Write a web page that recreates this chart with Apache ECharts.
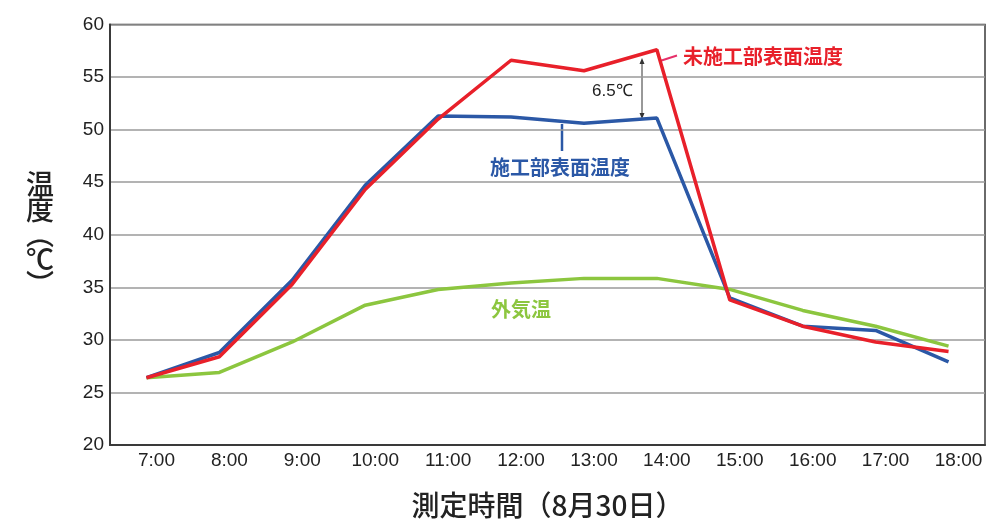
<!doctype html>
<html>
<head>
    <meta charset="UTF-8">
    <title>測定時間と温度</title>
    <script src="https://cdn.jsdelivr.net/npm/echarts@6/dist/echarts.min.js"></script>
    <style>
        html, body { margin: 0; padding: 0; background: #fff; }
        #main { width: 1001px; height: 524px; }
    </style>
</head>
<body>
<div id="main"></div>
<script>
    // 時刻
    var hours = ['7:00', '8:00', '9:00', '10:00', '11:00', '12:00', '13:00', '14:00', '15:00', '16:00', '17:00', '18:00'];
    // 未施工部表面温度
    var untreated = [26.4, 28.4, 35.3, 44.3, 51.0, 56.6, 55.6, 57.6, 33.8, 31.3, 29.8, 28.9];
    // 施工部表面温度
    var treated = [26.4, 28.8, 35.7, 44.7, 51.3, 51.2, 50.6, 51.1, 34.0, 31.3, 30.9, 27.9];
    // 外気温
    var outside = [26.4, 26.9, 29.8, 33.3, 34.8, 35.4, 35.85, 35.85, 34.8, 32.8, 31.3, 29.4];
    var yTicks = [20, 25, 30, 35, 40, 45, 50, 55, 60];

    var font = 'Liberation Sans';
    var jpFont = 'Noto Sans CJK JP';

    var dom = document.getElementById('main');
    var myChart = echarts.init(dom);

    var option = {
        animation: false,
        grid: {
            left: 110,
            right: 16,
            top: 24.5,
            bottom: 78,
            show: true,
            borderColor: '#3a3a3a',
            borderWidth: 1.5
        },
        xAxis: {
            type: 'category',
            data: hours,
            boundaryGap: true,
            axisLine: { lineStyle: { color: '#3a3a3a', width: 2 } },
            axisTick: { show: false },
            axisLabel: {
                color: '#222',
                fontSize: 19,
                fontFamily: font,
                margin: 6,
                padding: [0, 0, 0, 20]
            },
            name: '測定時間（8月30日）',
            nameLocation: 'middle',
            nameGap: 46,
            nameTextStyle: { color: '#222', fontSize: 28, fontFamily: jpFont, fontWeight: 500 }
        },
        yAxis: {
            type: 'value',
            min: yTicks[0],
            max: yTicks[yTicks.length - 1],
            interval: 5,
            axisLine: { show: true, lineStyle: { color: '#3a3a3a', width: 2 } },
            axisTick: { show: false },
            axisLabel: {
                color: '#222',
                fontSize: 19,
                fontFamily: font,
                margin: 6
            },
            splitLine: { lineStyle: { color: '#9a9a9a', width: 1.5 } },
            name: '温\n度\n︵\n℃\n︶',
            nameLocation: 'middle',
            nameRotate: 0,
            nameGap: 56,
            nameTextStyle: { color: '#222', fontSize: 28, fontFamily: jpFont, fontWeight: 500, lineHeight: 25 }
        },
        series: [
            {
                name: '外気温',
                type: 'line',
                data: outside,
                symbol: 'none',
                lineStyle: { color: '#8cc63f', width: 3.5 },
                z: 2
            },
            {
                name: '施工部表面温度',
                type: 'line',
                data: treated,
                symbol: 'none',
                lineStyle: { color: '#2b58a6', width: 3.5 },
                z: 3
            },
            {
                name: '未施工部表面温度',
                type: 'line',
                data: untreated,
                symbol: 'none',
                lineStyle: { color: '#e8202a', width: 3.5 },
                z: 4
            }
        ],
        graphic: [
            // 未施工部 ラベル
            { type: 'line', shape: { x1: 660, y1: 61, x2: 677, y2: 55.5 }, style: { stroke: '#e6306a', lineWidth: 2 } },
            { type: 'text', x: 683, y: 56, style: { text: '未施工部表面温度', fill: '#e8202a', fontSize: 20, fontWeight: 'bold', fontFamily: jpFont, verticalAlign: 'middle' } },
            // 施工部 ラベル
            { type: 'line', shape: { x1: 562, y1: 124, x2: 562, y2: 151 }, style: { stroke: '#2b58a6', lineWidth: 2.5 } },
            { type: 'text', x: 490, y: 167, style: { text: '施工部表面温度', fill: '#2b58a6', fontSize: 20, fontWeight: 'bold', fontFamily: jpFont, verticalAlign: 'middle' } },
            // 外気温 ラベル
            { type: 'text', x: 491, y: 309, style: { text: '外気温', fill: '#8cc63f', fontSize: 20, fontWeight: 'bold', fontFamily: jpFont, verticalAlign: 'middle' } },
            // 差 6.5℃
            { type: 'text', x: 592, y: 91, style: { text: '6.5℃', fill: '#222', fontSize: 17, fontFamily: font, verticalAlign: 'middle' } },
            { type: 'line', shape: { x1: 642, y1: 60, x2: 642, y2: 117 }, style: { stroke: '#333', lineWidth: 1 } },
            { type: 'polygon', shape: { points: [[642, 58], [639.5, 64], [644.5, 64]] }, style: { fill: '#333' } },
            { type: 'polygon', shape: { points: [[642, 119], [639.5, 113], [644.5, 113]] }, style: { fill: '#333' } }
        ]
    };

    myChart.setOption(option, true);
</script>
</body>
</html>
